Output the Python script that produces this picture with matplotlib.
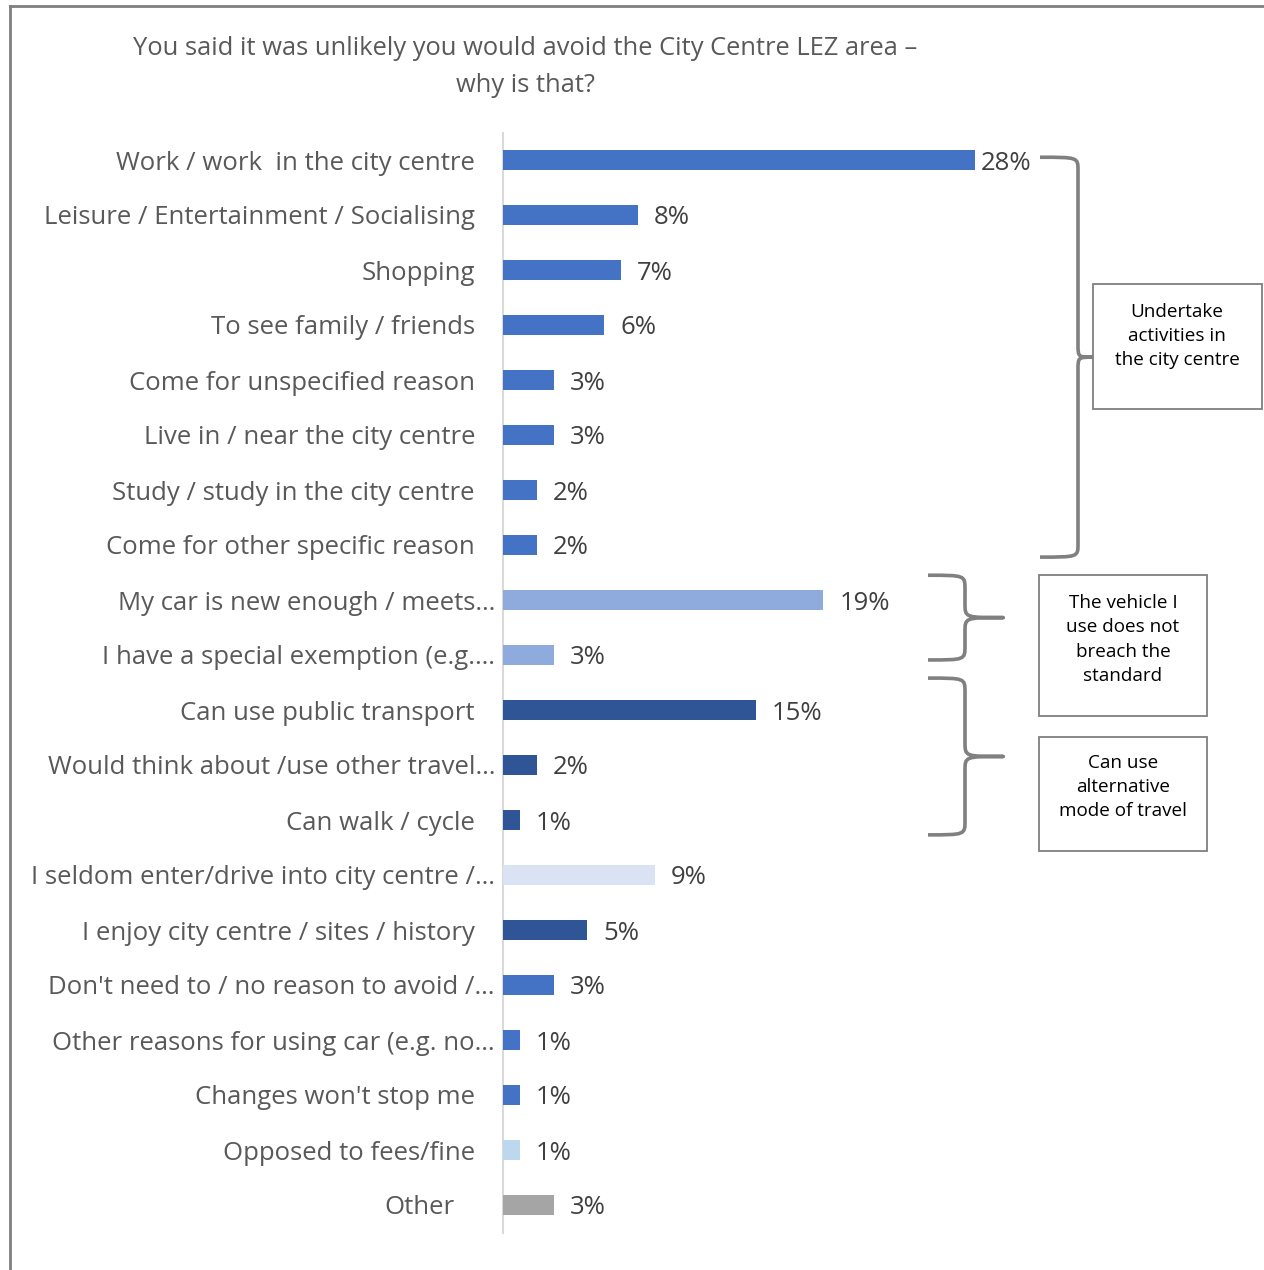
import matplotlib
matplotlib.use("Agg")
import matplotlib.pyplot as plt
from matplotlib.path import Path
from matplotlib.patches import PathPatch, Rectangle
from matplotlib.lines import Line2D
from matplotlib.transforms import offset_copy
import numpy as np

plt.rcParams['font.family'] = ['Open Sans', 'DejaVu Sans']

title = "You said it was unlikely you would avoid the City Centre LEZ area \u2013\nwhy is that?"

categories = [
    "Work / work  in the city centre",
    "Leisure / Entertainment / Socialising",
    "Shopping",
    "To see family / friends",
    "Come for unspecified reason",
    "Live in / near the city centre",
    "Study / study in the city centre",
    "Come for other specific reason",
    "My car is new enough / meets\u2026",
    "I have a special exemption (e.g.\u2026",
    "Can use public transport",
    "Would think about /use other travel\u2026",
    "Can walk / cycle",
    "I seldom enter/drive into city centre /\u2026",
    "I enjoy city centre / sites / history",
    "Don't need to / no reason to avoid /\u2026",
    "Other reasons for using car (e.g. no\u2026",
    "Changes won't stop me",
    "Opposed to fees/fine",
    "Other",
]
values = [28, 8, 7, 6, 3, 3, 2, 2, 19, 3, 15, 2, 1, 9, 5, 3, 1, 1, 1, 3]
groups = ["activity"] * 8 + ["vehicle"] * 2 + ["alternative"] * 3 + \
         ["seldom", "alternative", "activity", "activity", "activity", "opposed", "other"]

palette = {
    "activity": "#4472C4",
    "vehicle": "#8FAADC",
    "alternative": "#2F5597",
    "seldom": "#DAE3F3",
    "opposed": "#BDD7EE",
    "other": "#A5A5A5",
}

brace_groups = [
    ("Undertake\nactivities in\nthe city centre", 0, 7),
    ("The vehicle I\nuse does not\nbreach the\nstandard", 8, 9),
    ("Can use\nalternative\nmode of travel", 10, 12),
]

W, H = 1264, 1270
fig = plt.figure(figsize=(W / 100, H / 100), dpi=100)
fig.patch.set_facecolor("white")

ax_l, ax_r, ax_t, ax_b = 503, 975, 132.5, 1232.5
ax = fig.add_axes([ax_l / W, 1 - ax_b / H, (ax_r - ax_l) / W, (ax_b - ax_t) / H])

ypos = np.arange(len(categories))
ax.barh(ypos, values, height=0.35, color=[palette[g] for g in groups], zorder=3)
ax.set_xlim(0, max(values))
ax.set_ylim(len(categories) - 0.5, -0.5)
ax.set_xticks([])
ax.set_yticks([])
for s in ["top", "right", "bottom"]:
    ax.spines[s].set_visible(False)
ax.spines["left"].set_color("#D9D9D9")
ax.spines["left"].set_linewidth(1.5)

FS = 18.5

# category labels
for i, lab in enumerate(categories):
    if lab.endswith("\u2026"):
        pad = 8
    elif lab == "Other":
        pad = 48
    else:
        pad = 28
    tr = offset_copy(ax.transData, fig=fig, x=-pad, y=-3, units="dots")
    ax.text(0, i, lab, transform=tr, ha="right", va="center",
            fontsize=FS, color="#595959", clip_on=False)

# value labels
for i, v in enumerate(values):
    pad = 6 if v == max(values) else 16
    tr = offset_copy(ax.transData, fig=fig, x=pad, y=-3, units="dots")
    ax.text(v, i, f"{v}%", transform=tr, ha="left", va="center",
            fontsize=FS, color="#404040", clip_on=False)

# title
fig.text(525 / W, 1 - 67 / H, title, ha="center", va="center", fontsize=18.4,
         color="#595959", linespacing=1.6)

# helpers in pixel units -> data units
px_x = max(values) / (ax_r - ax_l)
px_y = len(categories) / (ax_b - ax_t)

def dx(px):
    return (px - ax_l) * px_x

def brace(x0p, x1p, x2p, ytop, ybot, r=13):
    x0, x1, x2 = dx(x0p), dx(x1p), dx(x2p)
    ry = r * px_y
    ym = (ytop + ybot) / 2
    verts = [
        (x0, ytop),
        (x1, ytop), (x1, ytop), (x1, ytop + ry),
        (x1, ym - ry),
        (x1, ym), (x1, ym), (x2, ym),
        (x1, ym), (x1, ym), (x1, ym + ry),
        (x1, ybot - ry),
        (x1, ybot), (x1, ybot), (x0, ybot),
    ]
    codes = [Path.MOVETO,
             Path.CURVE4, Path.CURVE4, Path.CURVE4,
             Path.LINETO,
             Path.CURVE4, Path.CURVE4, Path.CURVE4,
             Path.CURVE4, Path.CURVE4, Path.CURVE4,
             Path.LINETO,
             Path.CURVE4, Path.CURVE4, Path.CURVE4]
    p = PathPatch(Path(verts, codes), facecolor="none", edgecolor="#808080",
                  lw=2.6, clip_on=False, capstyle="butt", joinstyle="round")
    ax.add_patch(p)
    return ym

def box(x0p, x1p, y0, y1, text, yc, xc_p):
    rect = Rectangle((dx(x0p), y0), dx(x1p) - dx(x0p), y1 - y0, facecolor="white",
                     edgecolor="#7F7F7F", lw=1.3, clip_on=False, zorder=4)
    ax.add_patch(rect)
    ax.text(dx(xc_p), yc, text, ha="center", va="center", fontsize=13.6,
            color="#000000", linespacing=1.45, clip_on=False, zorder=5)

# brace 1: activities
t1, b1 = brace_groups[0][1] - 0.05, brace_groups[0][2] + 0.22
brace(1040, 1078, 1093, t1, b1, r=13)
box(1093, 1262, 2.25, 4.53, brace_groups[0][0], 3.2, 1177)

# brace 2: vehicle
t2, b2 = brace_groups[1][1] - 0.45, brace_groups[1][2] + 0.09
brace(928, 965, 1003, t2, b2, r=14)
box(1039, 1207, 7.55, 10.11, brace_groups[1][0], 8.72, 1123)

# brace 3: alternative
t3, b3 = brace_groups[2][1] - 0.58, brace_groups[2][2] + 0.27
brace(928, 965, 1003, t3, b3, r=14)
box(1039, 1207, 10.49, 12.56, brace_groups[2][0], 11.4, 1123)

# outer frame (left + top edges visible)
fig.add_artist(Line2D([10 / W, 10 / W], [0, 1 - 6 / H], color="#7F7F7F", lw=2,
                      transform=fig.transFigure))
fig.add_artist(Line2D([10 / W, 1], [1 - 6 / H, 1 - 6 / H], color="#7F7F7F", lw=2,
                      transform=fig.transFigure))

fig.savefig("out.png", dpi=100)
